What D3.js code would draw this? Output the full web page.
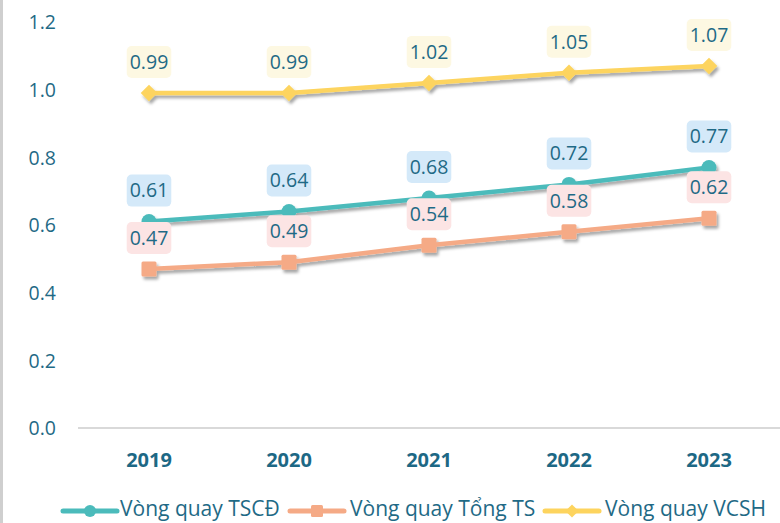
<!DOCTYPE html>
<html><head><meta charset="utf-8">
<script src="https://cdn.jsdelivr.net/npm/d3@7/dist/d3.min.js"></script>
<style>
html,body{margin:0;padding:0;background:#fff;}
svg{display:block;font-family:"Open Sans",sans-serif;}
</style></head>
<body>
<svg id="chart" width="780" height="523"></svg>
<script>
const years = ["2019","2020","2021","2022","2023"];
const tscd = [0.61,0.64,0.68,0.72,0.77];
const tongTS = [0.47,0.49,0.54,0.58,0.62];
const vcsh = [0.99,0.99,1.02,1.05,1.07];
const yTicks = [0,0.2,0.4,0.6,0.8,1.0,1.2];
const seriesNames = ["Vòng quay TSCĐ","Vòng quay Tổng TS","Vòng quay VCSH"];

const series = [
  {name:seriesNames[0], values:tscd, color:"#4bbbbb", box:"#d4e9f9", marker:"circle"},
  {name:seriesNames[1], values:tongTS, color:"#f5aa86", box:"#fce4e4", marker:"square"},
  {name:seriesNames[2], values:vcsh, color:"#fdd45e", box:"#fdf8e2", marker:"diamond"}
];

const svg = d3.select("#chart");
const defs = svg.append("defs");
const f = defs.append("filter").attr("id","shadow").attr("x","-20%").attr("y","-20%").attr("width","140%").attr("height","160%");
f.append("feDropShadow").attr("dx",2).attr("dy",3).attr("stdDeviation",1.6).attr("flood-color","#000").attr("flood-opacity",0.35);

const x = d3.scaleBand().domain(years).range([79,779]);
const y = d3.scaleLinear().domain([0,1.2]).range([428,22]);
const cx = d => x(d) + x.bandwidth()/2;

// left border
svg.append("rect").attr("x",0).attr("y",0).attr("width",3).attr("height",523).attr("fill","#cfcfcf");

// y axis labels
const yAxis = d3.axisLeft(y).tickValues(yTicks).tickFormat(d3.format(".1f")).tickSize(0).tickPadding(0);
const ya = svg.append("g").attr("transform","translate(56,0)").call(yAxis);
ya.select(".domain").remove();
ya.selectAll("text").attr("fill","#1f6a86").attr("font-size","19.5px").attr("font-family","Open Sans, sans-serif").attr("dy","0.35em");

// zero line
svg.append("line").attr("x1",78).attr("x2",780).attr("y1",y(0)).attr("y2",y(0)).attr("stroke","#d9d9d9").attr("stroke-width",2);

// x axis labels
const xAxis = d3.axisBottom(x).tickSize(0).tickPadding(0);
const xa = svg.append("g").attr("transform","translate(0,460)").call(xAxis);
xa.select(".domain").remove();
xa.selectAll("text").attr("fill","#1d6885").attr("font-size","20px").attr("font-weight","bold").attr("font-family","Open Sans, sans-serif").attr("dy","0.35em");

const line = d3.line().x((d,i)=>cx(years[i])).y(d=>y(d));

function drawMarker(g, type, px, py, color, s){
  if(type==="circle") g.append("circle").attr("cx",px).attr("cy",py).attr("r",s*0.5).attr("fill",color);
  else if(type==="square") g.append("rect").attr("x",px-s/2).attr("y",py-s/2).attr("width",s).attr("height",s).attr("rx",1.5).attr("fill",color);
  else g.append("path").attr("d",`M${px},${py-s*0.55}L${px+s*0.55},${py}L${px},${py+s*0.55}L${px-s*0.55},${py}Z`).attr("fill",color);
}

// draw order: VCSH, Tong TS, TSCD
[2,1,0].forEach(k=>{
  const s = series[k];
  const g = svg.append("g").attr("filter","url(#shadow)");
  g.append("path").datum(s.values).attr("d",line).attr("fill","none").attr("stroke",s.color).attr("stroke-width",4.5).attr("stroke-linejoin","round");
  s.values.forEach((v,i)=>drawMarker(g,s.marker,cx(years[i]),y(v),s.color,15));
});

// data labels
[2,1,0].forEach(k=>{
  const s = series[k];
  s.values.forEach((v,i)=>{
    const px = cx(years[i]), py = y(v) - 31;
    const lg = svg.append("g");
    const t = lg.append("text").attr("x",px).attr("y",py).attr("text-anchor","middle").attr("dy","0.35em")
      .attr("font-size","19.5px").attr("fill","#1f6a86").text(v.toFixed(2));
    const w = t.node().getComputedTextLength();
    lg.insert("rect","text").attr("x",px-w/2-3).attr("y",py-16).attr("width",w+6).attr("height",32).attr("rx",5).attr("fill",s.box);
  });
});

// legend
const legendItems = [
  {lx:63, tx:120},
  {lx:290, tx:350},
  {lx:545, tx:605}
];
series.forEach((s,k)=>{
  const L = legendItems[k];
  const g = svg.append("g");
  g.append("line").attr("x1",L.lx).attr("x2",L.lx+54).attr("y1",511).attr("y2",511).attr("stroke",s.color).attr("stroke-width",5).attr("stroke-linecap","round");
  drawMarker(g,s.marker,L.lx+27,511,s.color,12);
  g.append("text").attr("x",L.tx).attr("y",509).attr("dy","0.35em").attr("font-size","21px").attr("fill","#1f6a86").text(s.name);
});
</script>
</body></html>
